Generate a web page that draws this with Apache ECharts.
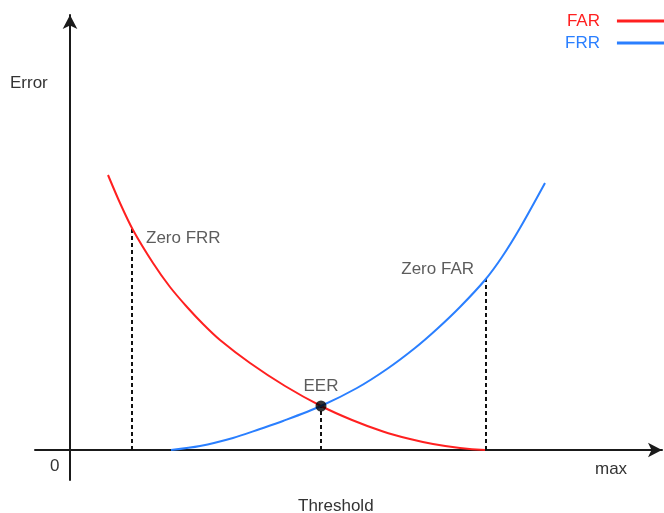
<!DOCTYPE html>
<html>
<head>
<meta charset="utf-8">
<script src="https://cdn.jsdelivr.net/npm/echarts@6/dist/echarts.min.js"></script>
<style>
  html, body { margin: 0; padding: 0; background: #fff; }
  #chart { width: 664px; height: 513px; }
</style>
</head>
<body>
<div id="chart"></div>
<script>
// FAR curve (red): threshold -> error
var farX = [38, 50, 63, 83, 100, 117, 133, 150, 180, 215, 251, 282, 313, 340, 363, 390, 415];
var farY = [275, 247, 220, 187, 163, 143, 126, 110, 87, 64, 44, 30, 18.5, 11, 6, 2, 0];

// FRR curve (blue)
var frrX = [101, 130, 163, 190, 213, 251, 287, 317, 345, 367, 390, 415, 432, 450, 475];
var frrY = [0, 4, 12, 21, 29, 44, 62, 81, 102, 121, 143, 170, 193, 222, 267];

// marked points: [threshold, error]
var zeroFrr = [62, 221];
var eerPt = [251, 44];
var zeroFar = [416, 171];

var textFont = "Liberation Sans";

function zip(xs, ys) {
  return xs.map(function (x, i) { return [x, ys[i]]; });
}
function drop(p) {
  return [[p[0], 0], [p[0], p[1]]];
}

var chart = echarts.init(document.getElementById("chart"));

var dashed = {
  type: "line",
  symbol: "none",
  silent: true,
  lineStyle: { color: "#111", width: 2, type: [4, 3] },
  z: 1
};

var option = {
  animation: false,
  grid: { left: 35, right: 2, top: 15, bottom: 33 },
  xAxis: {
    type: "value",
    min: -35,
    max: 592,
    axisLine: {
      onZero: true,
      symbol: ["none", "arrow"],
      symbolSize: [11, 14],
      lineStyle: { color: "#1a1a1a", width: 2 }
    },
    axisTick: { show: false },
    axisLabel: { show: false },
    splitLine: { show: false }
  },
  yAxis: {
    type: "value",
    min: -30,
    max: 435,
    axisLine: {
      show: true,
      onZero: true,
      symbol: ["none", "arrow"],
      symbolSize: [11, 14],
      lineStyle: { color: "#1a1a1a", width: 2 }
    },
    axisTick: { show: false },
    axisLabel: { show: false },
    splitLine: { show: false }
  },
  legend: {
    data: [
      { name: "FAR", textStyle: { color: "#ff2020" } },
      { name: "FRR", textStyle: { color: "#2a7fff" } }
    ],
    orient: "vertical",
    left: 560,
    top: 7,
    align: "right",
    icon: "rect",
    itemWidth: 60,
    itemHeight: 3,
    itemGap: 4,
    textStyle: {
      fontFamily: textFont,
      fontSize: 17,
      lineHeight: 18,
      padding: [0, 12, 0, 0]
    },
    selectedMode: false
  },
  series: [
    {
      name: "FAR",
      type: "line",
      data: zip(farX, farY),
      smooth: 0.3,
      symbol: "none",
      color: "#ff2020",
      lineStyle: { color: "#ff2020", width: 2 },
      z: 2
    },
    {
      name: "FRR",
      type: "line",
      data: zip(frrX, frrY),
      smooth: 0.3,
      symbol: "none",
      color: "#2a7fff",
      lineStyle: { color: "#2a7fff", width: 2 },
      z: 2
    },
    Object.assign({ name: "d1", data: drop(zeroFrr) }, dashed),
    Object.assign({ name: "d2", data: drop(eerPt) }, dashed),
    Object.assign({ name: "d3", data: drop(zeroFar) }, dashed),
    {
      name: "notes",
      type: "scatter",
      silent: true,
      z: 5,
      itemStyle: { color: "#000" },
      label: {
        show: true,
        color: "#333",
        fontFamily: textFont,
        fontSize: 17
      },
      data: [
        {
          value: zeroFrr,
          symbolSize: 0,
          label: { formatter: "Zero FRR", position: "right", distance: 14, offset: [0, 9] }
        },
        {
          value: zeroFar,
          symbolSize: 0,
          label: { formatter: "Zero FAR", position: "left", distance: 12, offset: [0, -10] }
        },
        {
          value: eerPt,
          symbolSize: 11,
          label: { formatter: "EER", position: "top", distance: 6 }
        }
      ]
    }
  ],
  graphic: [
    { type: "text", left: 10, top: 75, style: { text: "Error", fill: "#333", font: "17px " + textFont } },
    { type: "text", left: 50, top: 458, style: { text: "0", fill: "#333", font: "17px " + textFont } },
    { type: "text", left: 595, top: 461, style: { text: "max", fill: "#333", font: "17px " + textFont } },
    { type: "text", left: 298, top: 498, style: { text: "Threshold", fill: "#333", font: "17px " + textFont } }
  ]
};

chart.setOption(option);
</script>
</body>
</html>
